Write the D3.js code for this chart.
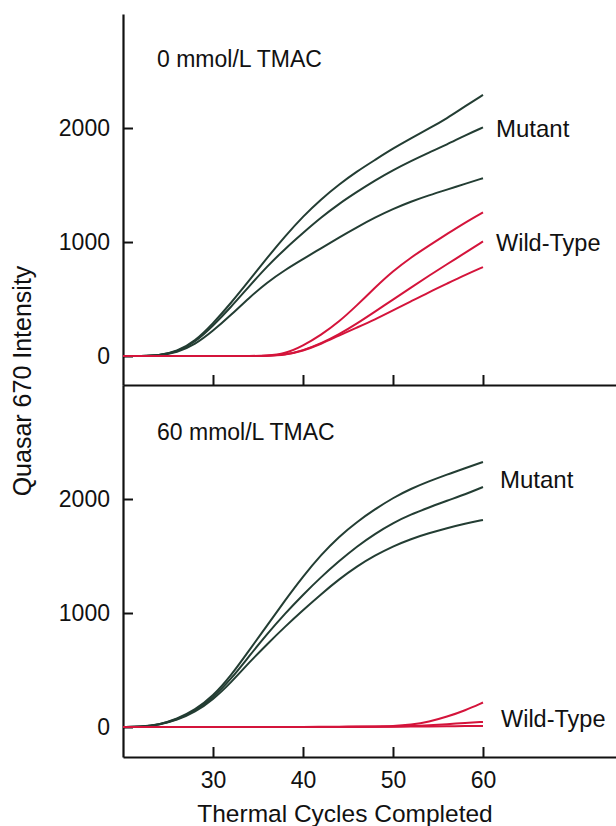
<!DOCTYPE html>
<html>
<head>
<meta charset="utf-8">
<script src="https://cdn.jsdelivr.net/npm/d3@7"></script>
<style>
  html, body { margin: 0; padding: 0; background: #ffffff; }
  svg { display: block; font-family: "Liberation Sans", Arial, Helvetica, sans-serif; }
</style>
</head>
<body>
<svg id="chart" width="616" height="826"></svg>
<script>
// ---------- data ----------
const cycles = [20,22,24,26,28,30,32,34,36,38,40,42,44,46,48,50,52,54,56,58,60];

// Panel 1: 0 mmol/L TMAC
const top_mutant_1 = [0,0,5,40,130,285,465,660,860,1050,1225,1375,1505,1620,1720,1820,1910,1995,2085,2190,2290];
const top_mutant_2 = [0,0,5,35,120,265,430,610,785,940,1080,1215,1335,1440,1540,1630,1710,1785,1855,1935,2005];
const top_mutant_3 = [0,0,5,30,100,220,360,510,645,755,850,945,1040,1130,1215,1290,1355,1410,1460,1510,1560];
const top_wild_1   = [0,0,0,0,0,0,0,0,3,20,90,185,300,445,600,745,865,970,1070,1170,1260];
const top_wild_2   = [0,0,0,0,0,0,0,0,2,10,48,110,190,285,390,495,600,705,805,905,1005];
const top_wild_3   = [0,0,0,0,0,0,0,0,2,10,45,105,180,250,320,400,480,560,635,710,780];

// Panel 2: 60 mmol/L TMAC
const bottom_mutant_1 = [0,3,20,70,150,270,450,670,890,1110,1320,1510,1670,1800,1910,2010,2090,2155,2215,2270,2325];
const bottom_mutant_2 = [0,3,20,65,140,255,420,620,815,995,1160,1315,1455,1585,1695,1790,1865,1925,1985,2040,2105];
const bottom_mutant_3 = [0,3,18,60,130,240,390,565,725,880,1025,1165,1295,1410,1505,1585,1650,1700,1745,1785,1816];
const bottom_wild_1   = [0,0,0,0,0,0,0,0,0,0,0,2,3,4,5,8,20,45,90,145,215];
const bottom_wild_2   = [0,0,0,0,0,0,0,0,0,0,0,0,1,2,3,5,8,15,25,35,45];
const bottom_wild_3   = [0,0,0,0,0,0,0,0,0,0,0,0,0,1,2,3,4,5,6,8,10];

const xTicks = [30, 40, 50, 60];
const yTicks = [0, 1000, 2000];
const panelTitles = ["0 mmol/L TMAC", "60 mmol/L TMAC"];
const seriesLabels = ["Mutant", "Wild-Type"];
const xTitle = "Thermal Cycles Completed";
const yTitle = "Quasar 670 Intensity";

// ---------- layout ----------
const svg = d3.select("#chart");
const GREEN = "#233d33", RED = "#d4143b";

const x = d3.scaleLinear().domain([20, 74.78]).range([123, 616]);
const yTop = d3.scaleLinear().domain([-254, 3000]).range([385, 14]);
const yBot = d3.scaleLinear().domain([-263, 3000]).range([757, 385]);

const panels = [
  { y: yTop, title: panelTitles[0], mutants: [top_mutant_1, top_mutant_2, top_mutant_3],
    wilds: [top_wild_1, top_wild_2, top_wild_3], showX: false,
    titlePos: [157, 67], mutPos: [496, 137], wildPos: [496, 251] },
  { y: yBot, title: panelTitles[1], mutants: [bottom_mutant_1, bottom_mutant_2, bottom_mutant_3],
    wilds: [bottom_wild_1, bottom_wild_2, bottom_wild_3], showX: true,
    titlePos: [157, 440], mutPos: [500, 488], wildPos: [501, 727] }
];

panels.forEach(p => {
  const g = svg.append("g");
  // axes
  const ya = d3.axisLeft(p.y).tickValues(yTicks).tickSize(-10).tickSizeOuter(0).tickPadding(13).tickFormat(d3.format("d"));
  const gy = g.append("g").attr("transform", `translate(${x(20)},0)`).call(ya);
  gy.selectAll("text").attr("font-size", 23).attr("fill", "#111").attr("font-family", "Liberation Sans, Arial, sans-serif");
  gy.selectAll("line").attr("stroke", "#111").attr("stroke-width", 2);
  gy.select(".domain").attr("stroke", "#111").attr("stroke-width", 2.2);

  const xa = d3.axisBottom(x).tickValues(xTicks).tickSize(-10).tickSizeOuter(0).tickPadding(14.5)
    .tickFormat(p.showX ? d3.format("d") : () => "");
  const gx = g.append("g").attr("transform", `translate(0,${p.y.range()[0]})`).call(xa);
  gx.selectAll("text").attr("font-size", 23).attr("fill", "#111").attr("font-family", "Liberation Sans, Arial, sans-serif");
  gx.selectAll("line").attr("stroke", "#111").attr("stroke-width", 2);
  gx.select(".domain").attr("stroke", "#111").attr("stroke-width", 2.2);

  const line = d3.line()
    .x((d, i) => x(cycles[i]))
    .y(d => p.y(d))
    .curve(d3.curveBasis);

  p.mutants.forEach(s => {
    g.append("path").datum(s).attr("d", line)
      .attr("fill", "none").attr("stroke", GREEN).attr("stroke-width", 2);
  });
  p.wilds.forEach(s => {
    g.append("path").datum(s).attr("d", line)
      .attr("fill", "none").attr("stroke", RED).attr("stroke-width", 2);
  });

  g.append("text").attr("x", p.titlePos[0]).attr("y", p.titlePos[1])
    .attr("font-size", 23).attr("fill", "#111").text(p.title);
  g.append("text").attr("x", p.mutPos[0]).attr("y", p.mutPos[1])
    .attr("font-size", 24).attr("fill", "#111").text(seriesLabels[0]);
  g.append("text").attr("x", p.wildPos[0]).attr("y", p.wildPos[1])
    .attr("font-size", 23.5).attr("fill", "#111").text(seriesLabels[1]);
});

// axis titles
svg.append("text").attr("x", 345).attr("y", 822).attr("text-anchor", "middle")
  .attr("font-size", 24.5).attr("fill", "#111").text(xTitle);
svg.append("text").attr("transform", "translate(31,381) rotate(-90)").attr("text-anchor", "middle")
  .attr("font-size", 25).attr("fill", "#111").text(yTitle);
</script>
</body>
</html>
